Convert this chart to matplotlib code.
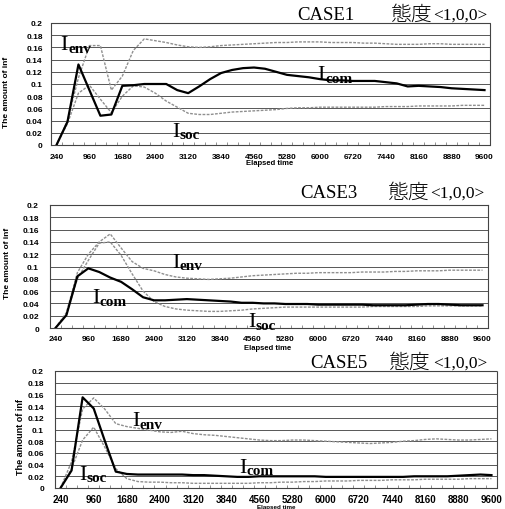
import numpy as np
import matplotlib.pyplot as plt

plt.rcParams['font.family'] = ['Liberation Sans', 'Noto Sans CJK JP']

# elapsed time categories (one sample every 240)
elapsed = np.arange(240, 9601, 240)
tick_times = np.arange(240, 9601, 720)

case1_com = [0.0, 0.038, 0.132, 0.09, 0.048, 0.05, 0.097, 0.098, 0.1, 0.1,
             0.1, 0.09, 0.085, 0.096, 0.108, 0.118, 0.123, 0.126, 0.127, 0.125,
             0.12, 0.115, 0.113, 0.111, 0.108, 0.106, 0.106, 0.105, 0.105, 0.105,
             0.103, 0.101, 0.096, 0.097, 0.096, 0.095, 0.093, 0.092, 0.091, 0.09]
case1_env = [0.0, 0.04, 0.11, 0.163, 0.163, 0.09, 0.113, 0.155, 0.174, 0.171,
             0.168, 0.164, 0.161, 0.16, 0.161, 0.163, 0.164, 0.165, 0.166, 0.167,
             0.168, 0.168, 0.169, 0.169, 0.169, 0.168, 0.168, 0.168, 0.167, 0.167,
             0.166, 0.165, 0.165, 0.165, 0.166, 0.166, 0.165, 0.165, 0.165, 0.165]
case1_soc = [0.0, 0.035, 0.085, 0.098, 0.075, 0.053, 0.08, 0.097, 0.095, 0.085,
             0.072, 0.062, 0.052, 0.05, 0.05, 0.052, 0.054, 0.055, 0.056, 0.057,
             0.058, 0.06, 0.061, 0.061, 0.062, 0.062, 0.062, 0.062, 0.062, 0.062,
             0.063, 0.063, 0.063, 0.064, 0.064, 0.064, 0.064, 0.065, 0.065, 0.065]

case3_com = [0.0, 0.021, 0.084, 0.097, 0.091, 0.082, 0.075, 0.063, 0.05, 0.045,
             0.045, 0.046, 0.047, 0.046, 0.045, 0.044, 0.043, 0.041, 0.041, 0.04,
             0.04, 0.039, 0.039, 0.039, 0.038, 0.038, 0.038, 0.038, 0.038, 0.037,
             0.037, 0.037, 0.037, 0.038, 0.039, 0.039, 0.038, 0.037, 0.037, 0.037]
case3_env = [0.0, 0.025, 0.09, 0.12, 0.14, 0.153, 0.13, 0.108, 0.097, 0.093,
             0.087, 0.083, 0.081, 0.08, 0.079, 0.08, 0.081, 0.083, 0.085, 0.086,
             0.087, 0.088, 0.089, 0.089, 0.09, 0.09, 0.09, 0.09, 0.091, 0.091,
             0.091, 0.092, 0.092, 0.093, 0.093, 0.093, 0.094, 0.094, 0.094, 0.094]
case3_soc = [0.0, 0.022, 0.08, 0.11, 0.138, 0.14, 0.118, 0.088, 0.06, 0.043,
             0.035, 0.031, 0.029, 0.028, 0.027, 0.027, 0.028, 0.029, 0.031, 0.032,
             0.033, 0.034, 0.034, 0.034, 0.034, 0.034, 0.034, 0.034, 0.034, 0.035,
             0.035, 0.035, 0.035, 0.035, 0.036, 0.036, 0.036, 0.036, 0.036, 0.036]

case5_com = [0.0, 0.03, 0.155, 0.136, 0.081, 0.028, 0.024, 0.023, 0.023, 0.023,
             0.023, 0.023, 0.022, 0.022, 0.021, 0.02, 0.019, 0.019, 0.02, 0.02,
             0.02, 0.02, 0.02, 0.02, 0.019, 0.019, 0.019, 0.019, 0.019, 0.019,
             0.019, 0.019, 0.02, 0.02, 0.02, 0.02, 0.021, 0.022, 0.023, 0.022]
case5_env = [0.0, 0.045, 0.135, 0.154, 0.135, 0.11, 0.105, 0.102, 0.099, 0.096,
             0.095, 0.097, 0.093, 0.091, 0.09, 0.088, 0.086, 0.084, 0.082, 0.081,
             0.081, 0.082, 0.082, 0.081, 0.08, 0.079, 0.078, 0.077, 0.076, 0.077,
             0.078, 0.08, 0.081, 0.083, 0.084, 0.083, 0.082, 0.082, 0.083, 0.084]
case5_soc = [0.0, 0.033, 0.082, 0.104, 0.07, 0.033, 0.016, 0.011, 0.01, 0.01,
             0.009, 0.009, 0.008, 0.008, 0.008, 0.008, 0.008, 0.008, 0.009, 0.009,
             0.01, 0.01, 0.011, 0.011, 0.012, 0.012, 0.012, 0.013, 0.013, 0.013,
             0.014, 0.014, 0.014, 0.015, 0.015, 0.015, 0.015, 0.016, 0.016, 0.016]

y_ticks = [0, 0.02, 0.04, 0.06, 0.08, 0.1, 0.12, 0.14, 0.16, 0.18, 0.2]
y_tick_labels = ['0', '0.02', '0.04', '0.06', '0.08', '0.1',
                 '0.12', '0.14', '0.16', '0.18', '0.2']

W, H = 506, 510


def px(x, y):
    return x / W, 1 - y / H


def box(left, top, right, bottom):
    return [left / W, 1 - bottom / H, (right - left) / W, (bottom - top) / H]


def curve_label(ax, t, v, sub):
    ax.text(t, v, 'I', fontsize=16, family='Liberation Serif',
            va='baseline', ha='left')
    ax.annotate(sub, (t, v), xytext=(5.4, -1.8), textcoords='offset points',
                fontsize=11, fontweight='bold', family='Liberation Serif',
                va='baseline', ha='left')


def draw_panel(ax, com, env, soc, xfont, xpad, ypad):
    for v in y_ticks[1:-1]:
        ax.axhline(v, color='#3c3c3c', lw=0.6, zorder=1)
    ax.plot(elapsed, env, color='#8f8f8f', lw=1.0, ls=(0, (2, 1)), zorder=2)
    ax.plot(elapsed, soc, color='#8f8f8f', lw=1.0, ls=(0, (2, 1)), zorder=2)
    ax.plot(elapsed, com, color='black', lw=1.6, zorder=3)
    ax.set_xlim(120, 9720)
    ax.set_ylim(0, 0.2)
    ax.set_xticks(tick_times)
    ax.set_xticklabels([str(t) for t in tick_times], fontsize=xfont,
                       fontweight='bold')
    ax.set_xticks(np.arange(120, 9721, 240), minor=True)
    ax.set_yticks(y_ticks)
    ax.set_yticklabels(y_tick_labels, fontsize=6, fontweight='bold')
    ax.tick_params(axis='x', which='major', length=0, pad=xpad)
    ax.tick_params(axis='x', which='minor', length=2, direction='in',
                   color='#666666', width=0.5)
    ax.tick_params(axis='y', length=0, pad=ypad)
    for sp in ax.spines.values():
        sp.set_linestyle((0, (1, 1)))
        sp.set_color('#444444')
        sp.set_linewidth(0.8)


fig = plt.figure(figsize=(W / 100, H / 100), dpi=100)
fig.patch.set_facecolor('white')

ax1 = fig.add_axes(box(51, 24, 490, 146))
draw_panel(ax1, case1_com, case1_env, case1_soc, 6, 6, 6)
curve_label(ax1, 330, 0.157, 'env')
curve_label(ax1, 5950, 0.108, 'com')
curve_label(ax1, 2770, 0.015, 'soc')

ax2 = fig.add_axes(box(50, 206, 488, 329))
draw_panel(ax2, case3_com, case3_env, case3_soc, 6, 5, 8)
curve_label(ax2, 2790, 0.1, 'env')
curve_label(ax2, 1050, 0.042, 'com')
curve_label(ax2, 4470, 0.003, 'soc')

ax3 = fig.add_axes(box(55, 372, 497, 489))
draw_panel(ax3, case5_com, case5_env, case5_soc, 7, 4.5, 8)
curve_label(ax3, 1800, 0.107, 'env')
curve_label(ax3, 4120, 0.028, 'com')
curve_label(ax3, 650, 0.016, 'soc')

# panel headings
headings = [('CASE1', 297, 390, 433, 20),
            ('CASE3', 300, 387, 430, 198),
            ('CASE5', 310, 388, 433, 368)]
for name, x0, x1, x2, base in headings:
    fig.text(*px(x0, base), name, fontsize=13.5, family='Liberation Serif',
             va='baseline', ha='left')
    fig.text(*px(x1, base + 1), '態度', fontsize=15, fontweight='light',
             family='Noto Sans CJK JP', va='baseline', ha='left')
    fig.text(*px(x2, base), '<1,0,0>', fontsize=12.5, family='Liberation Serif',
             va='baseline', ha='left')

# axis titles
for x, y, fs in [(7, 92, 6), (7.5, 263, 6), (21, 437, 6.5)]:
    fig.text(*px(x, y), 'The amount of inf', rotation=90, fontsize=fs,
             fontweight='bold', ha='center', va='center')
for x, y in [(270, 164), (268, 348.5)]:
    fig.text(*px(x, y), 'Elapsed time', fontsize=5.5, fontweight='bold',
             ha='center', va='center')
fig.text(*px(276, 510), 'Elapsed time', fontsize=4.5, fontweight='bold',
         ha='center', va='bottom')

fig.savefig('out.png', dpi=100)
